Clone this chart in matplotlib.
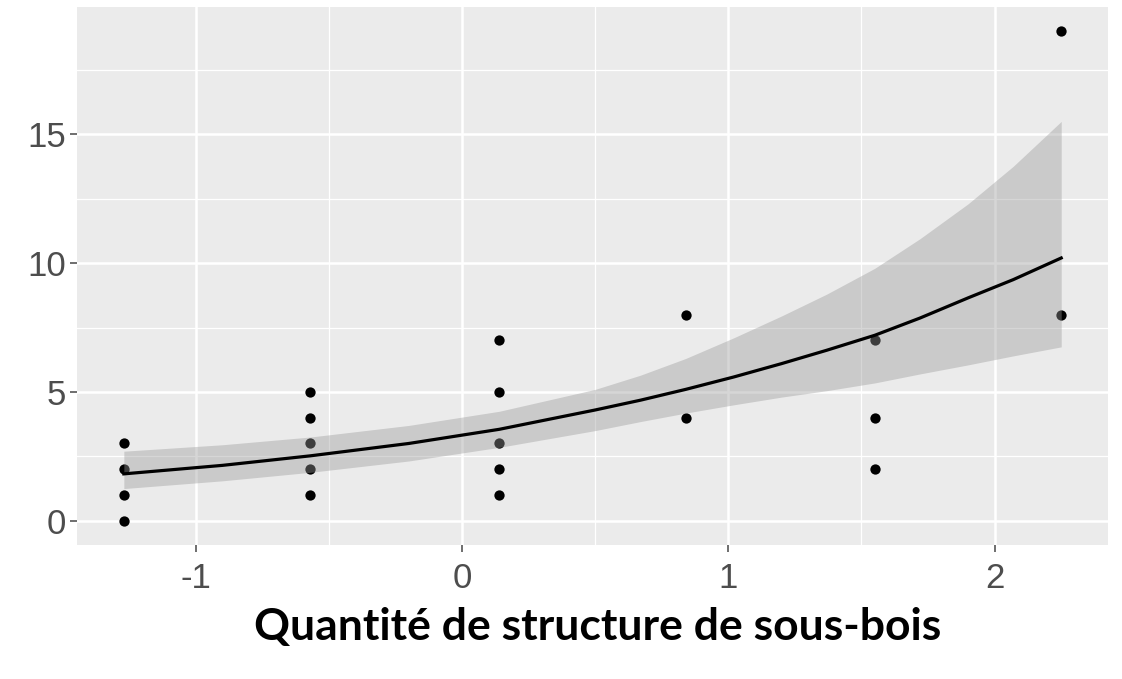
import numpy as np
import matplotlib
matplotlib.use("Agg")
import matplotlib.pyplot as plt
from matplotlib.ticker import FixedLocator

plt.rcParams["axes.unicode_minus"] = False

# observed counts at each standardised understorey level
x_levels = [-1.27, -0.57, 0.14, 0.84, 1.55, 2.25]
counts = [
    [0, 1, 2, 3],
    [1, 2, 3, 4, 5],
    [1, 2, 3, 5, 7],
    [4, 8],
    [2, 4, 7],
    [8, 19],
]

# model prediction and 95% band
fit_x = [-1.27, -0.9, -0.57, -0.2, 0.14, 0.5, 0.67, 0.84, 1.02, 1.2,
         1.37, 1.55, 1.72, 1.9, 2.07, 2.25]
fit_y = [1.82, 2.15, 2.52, 3.0, 3.55, 4.3, 4.68, 5.1, 5.58, 6.1,
         6.62, 7.2, 7.87, 8.65, 9.36, 10.2]
fit_lo = [1.25, 1.55, 1.88, 2.32, 2.85, 3.5, 3.85, 4.18, 4.5, 4.8,
          5.05, 5.35, 5.7, 6.05, 6.4, 6.75]
fit_hi = [2.7, 2.95, 3.25, 3.7, 4.25, 5.1, 5.65, 6.3, 7.1, 7.95,
          8.8, 9.8, 10.95, 12.3, 13.76, 15.5]

x_ticks = [-1, 0, 1, 2]
y_ticks = [0, 5, 10, 15]
xlabel = "Quantité de structure de sous-bois"

px = np.concatenate([[x] * len(c) for x, c in zip(x_levels, counts)])
py = np.concatenate(counts)

fig = plt.figure(figsize=(11.22, 6.79), dpi=100)
ax = fig.add_axes([0.0686, 0.197, 0.919, 0.793])
ax.set_facecolor("#EBEBEB")

ax.scatter(px, py, s=55, color="black", linewidths=0, zorder=3)
ax.fill_between(fit_x, fit_lo, fit_hi, color="#999999", alpha=0.4,
                linewidth=0, zorder=4)
ax.plot(fit_x, fit_y, color="black", lw=2.3, zorder=5)

# ggplot-like expansion of 5% on each side
xr = max(x_levels) - min(x_levels)
ax.set_xlim(min(x_levels) - 0.05 * xr, max(x_levels) + 0.05 * xr)
ax.set_ylim(-0.95, 19.95)

ax.set_xticks(x_ticks)
ax.set_yticks(y_ticks)
ax.xaxis.set_minor_locator(FixedLocator([-0.5, 0.5, 1.5]))
ax.yaxis.set_minor_locator(FixedLocator([2.5, 7.5, 12.5, 17.5]))
ax.grid(which="major", color="white", lw=1.8)
ax.grid(which="minor", color="white", lw=0.9)
ax.set_axisbelow(True)
for s in ax.spines.values():
    s.set_visible(False)

ax.tick_params(which="major", length=5, width=1.2, color="#555555",
               labelcolor="#4D4D4D", labelsize=25, pad=3,
               labelfontfamily="Liberation Sans")
ax.tick_params(axis="x", pad=7)
ax.tick_params(which="minor", length=0)

fig.text(0.533, 0.076, xlabel, ha="center", va="center", fontsize=32,
         fontweight="bold", family="Lato")

fig.savefig("out.png", dpi=100, facecolor="white")
